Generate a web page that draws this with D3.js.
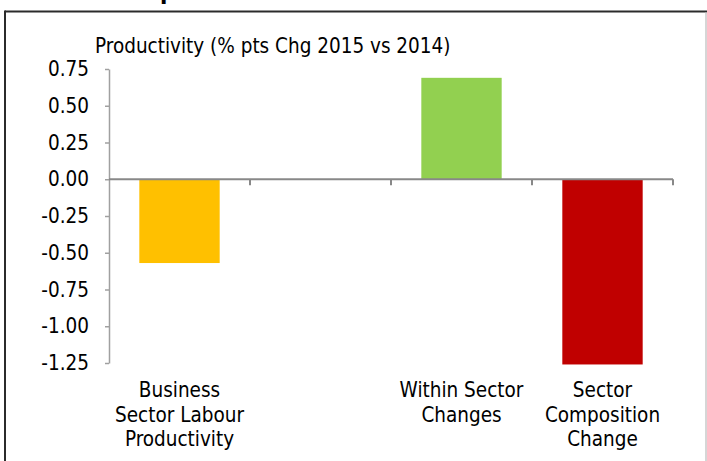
<!DOCTYPE html>
<html>
<head>
<meta charset="utf-8">
<script src="https://cdn.jsdelivr.net/npm/d3@7"></script>
<style>
  html, body { margin: 0; padding: 0; background: #fff; }
  svg { display: block; }
  text { font-family: "DejaVu Sans Condensed", "DejaVu Sans", sans-serif; fill: #000; }
</style>
</head>
<body>
<svg id="chart" width="707" height="461"></svg>
<script>
// Productivity decomposition, % pts change 2015 vs 2014
const categories = ["bslp", "gap", "within", "composition"];
const categoryLabels = [
  ["Business", "Sector Labour", "Productivity"],
  [],
  ["Within Sector", "Changes"],
  ["Sector", "Composition", "Change"]
];
const values = [-0.57, null, 0.69, -1.26];
const barColors = ["#FFC000", null, "#92D050", "#C00000"];
const yTicks = [0.75, 0.50, 0.25, 0.00, -0.25, -0.50, -0.75, -1.00, -1.25];
const axisTitle = "Productivity (% pts Chg 2015 vs 2014)";

const FONT_SIZE = "20.5px";

const svg = d3.select("#chart");
const W = 707, H = 461;

// frame around the chart
svg.append("line").attr("x1", 5).attr("x2", W).attr("y1", 11.5).attr("y2", 11.5)
  .attr("stroke", "#2b2b2b").attr("stroke-width", 2);
svg.append("line").attr("x1", 5).attr("x2", 5).attr("y1", 10.5).attr("y2", H)
  .attr("stroke", "#2b2b2b").attr("stroke-width", 2);
svg.append("line").attr("x1", 706).attr("x2", 706).attr("y1", 12.5).attr("y2", H)
  .attr("stroke", "#c8c8c8").attr("stroke-width", 1.5);

// heading above the frame (mostly outside the view)
svg.append("text").attr("x", 160).attr("y", -1)
  .style("font-weight", "bold").style("font-size", "24px").text("p");

const y = d3.scaleLinear().domain([-1.25, 0.75]).range([363, 69]);
const x = d3.scaleBand().domain(categories).range([109, 673])
  .paddingInner(0.43).paddingOuter(0.215);

const fmt = d3.formatLocale({ decimal: ".", thousands: ",", grouping: [3], currency: ["", ""], minus: "-" }).format(".2f");

// bars
svg.append("g").selectAll("rect")
  .data(categories.map((c, i) => ({ c, v: values[i], col: barColors[i] })).filter(d => d.v !== null))
  .join("rect")
  .attr("x", d => x(d.c))
  .attr("width", x.bandwidth())
  .attr("y", d => y(Math.max(0, d.v)))
  .attr("height", d => Math.abs(y(d.v) - y(0)))
  .attr("fill", d => d.col);

// y axis
const yAxis = svg.append("g").attr("transform", "translate(109,0)")
  .call(d3.axisLeft(y).tickValues(yTicks).tickFormat(fmt).tickSize(4).tickSizeOuter(0).tickPadding(16));
yAxis.select(".domain").attr("stroke", "#a0a0a0").attr("stroke-width", 1.5);
yAxis.selectAll(".tick line").attr("stroke", "#a0a0a0").attr("stroke-width", 1.5);
yAxis.selectAll(".tick text").attr("font-size", null).style("font-size", FONT_SIZE)
  .style("font-family", "'DejaVu Sans Condensed', 'DejaVu Sans', sans-serif").attr("fill", "#000");

// x axis at zero with ticks on category boundaries
const step = x.step();
const x0 = x.range()[0];
const bounds = d3.range(categories.length + 1).map(i => x0 + i * step);
const xAxis = svg.append("g");
xAxis.append("line").attr("x1", x0).attr("x2", x.range()[1])
  .attr("y1", y(0)).attr("y2", y(0)).attr("stroke", "#888").attr("stroke-width", 2);
xAxis.selectAll("line.tk").data(bounds.slice(1)).join("line").attr("class", "tk")
  .attr("x1", d => d).attr("x2", d => d)
  .attr("y1", y(0)).attr("y2", y(0) + 6)
  .attr("stroke", "#888").attr("stroke-width", 2);

// category labels
const lab = svg.append("g");
categories.forEach((c, i) => {
  const cx = x(c) + x.bandwidth() / 2;
  categoryLabels[i].forEach((line, j) => {
    lab.append("text").attr("x", cx).attr("y", 397 + j * 24.5)
      .attr("text-anchor", "middle").style("font-size", FONT_SIZE).text(line);
  });
});

// value-axis title
svg.append("text").attr("x", 95).attr("y", 53).style("font-size", FONT_SIZE).text(axisTitle);
</script>
</body>
</html>
